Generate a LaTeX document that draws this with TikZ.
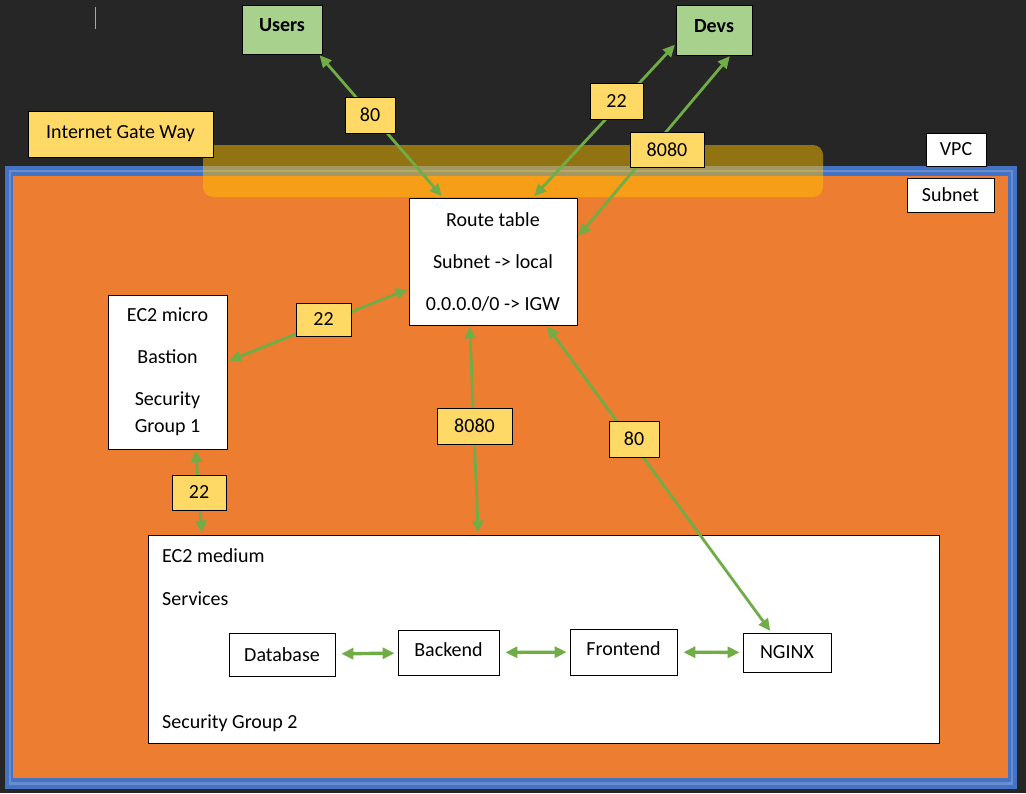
\documentclass[tikz,border=0pt]{standalone}
\usepackage{fontspec}
\setmainfont{Carlito}
\usepackage{xcolor}
\usetikzlibrary{arrows.meta}
\definecolor{bgdark}{HTML}{262626}
\definecolor{vpcblue}{HTML}{4472C4}
\definecolor{subnetorange}{HTML}{ED7D31}
\definecolor{igwgold}{HTML}{FFC000}
\definecolor{portyellow}{HTML}{FFD966}
\definecolor{usergreen}{HTML}{A9D18E}
\definecolor{linkgreen}{HTML}{70AD47}

\begin{document}
\begin{tikzpicture}[x=1pt,y=-1pt]
  \tikzset{box/.style = {shape=rectangle,draw,fill=white,line width=0.8pt,inner sep=1pt,align=center,font=\fontsize{20}{27}\selectfont}}
  \tikzset{client/.style = {box,fill=usergreen,font=\fontsize{20}{24}\selectfont\bfseries}}
  \tikzset{port/.style = {box,fill=portyellow,font=\fontsize{20}{24}\selectfont}}
  \tikzset{svc/.style = {box,font=\fontsize{20}{24}\selectfont}}
  \tikzset{plain/.style = {anchor=west,inner sep=0pt,font=\fontsize{20}{24}\selectfont}}
  \tikzset{%
    porttip/.tip={Triangle[length=12pt,width=11pt]},
  }
  \tikzset{link/.style = {porttip-porttip,color=linkgreen,line width=2.8pt,shorten <=1pt,shorten >=2pt}}
  \tikzset{svclink/.style = {link,line width=3.4pt,shorten <=6pt,shorten >=3pt}}

  % background, vpc and subnet
  \useasboundingbox (0,0) rectangle (1026,793);
  \fill[bgdark] (0,0) rectangle (1026,793);
  \draw[gray!70,line width=0.8pt] (95,7) -- (95,29);
  \fill[vpcblue] (5,166) rectangle (1017,789);
  \fill[vpcblue!80!white] (9,170) rectangle (1013,785);
  \fill[vpcblue] (11,172) rectangle (1011,782);
  \fill[subnetorange] (13,176) rectangle (1008,778);
  \fill[igwgold,opacity=0.5,rounded corners=10pt] (203,145) rectangle (823,197);

  \node[port,minimum width=185pt,minimum height=46pt] (IGW) at (120.5,134) {Internet Gate Way};
  \node[box,minimum width=60pt,minimum height=33pt,font=\fontsize{20}{24}\selectfont] (VPC) at (956,149.5) {VPC};
  \node[box,minimum width=87pt,minimum height=34pt,font=\fontsize{20}{24}\selectfont] (SN) at (950.5,195) {Subnet};

  \node[client,minimum width=80pt,minimum height=49pt,text depth=8pt] (users) at (282,29.5) {Users};
  \node[client,minimum width=76pt,minimum height=50pt,text depth=8pt] (devs) at (714,30) {Devs};

  \node[box,minimum width=168pt,minimum height=127pt] (route) at (493,261.5)
    {Route table\\[15pt]Subnet -> local\\[15pt]0.0.0.0/0 -> IGW};
  \node[box,minimum width=119pt,minimum height=154pt] (ec2micro) at (167.5,372)
    {EC2 micro\\[15pt]Bastion\\[15pt]Security\\Group 1};

  \node[box,minimum width=791pt,minimum height=208pt] (medium) at (543.5,639) {};
  \node[plain] (mediumT) at (162,556) {EC2 medium};
  \node[plain] (servT) at (162,599) {Services};
  \node[plain] (sg2T) at (162,723) {Security Group 2};

  \node[svc,minimum width=106pt,minimum height=43pt] (database) at (282,654.5) {Database};
  \node[svc,minimum width=101pt,minimum height=45pt,text depth=6pt] (backend) at (448.5,652.5) {Backend};
  \node[svc,minimum width=107pt,minimum height=46pt,text depth=7pt] (frontend) at (623.5,652) {Frontend};
  \node[svc,minimum width=88pt,minimum height=39pt] (nginx) at (787,652.5) {NGINX};

    \foreach \from/\to in {users.-34/route.128, devs.-160/route.58, devs.-57/route.16, route.198/ec2micro.10, route.-110/medium.122, route.-50/nginx.128, ec2micro.-70/medium.163}
    \path[link](\from) edge (\to);

    \foreach \from/\to in {database/backend, backend/frontend, frontend/nginx}
    \path[svclink](\from) edge (\to);

  % port labels on top of the links
  \node[port,minimum width=50pt,minimum height=36pt] (pU) at (370,115) {80};
  \node[port,minimum width=53pt,minimum height=36pt] (pDa) at (616.5,101) {22};
  \node[port,minimum width=74pt,minimum height=35pt] (pDb) at (667,149.5) {8080};
  \node[port,minimum width=55pt,minimum height=33pt] (pB) at (323.5,319.5) {22};
  \node[port,minimum width=54pt,minimum height=35pt] (pM) at (199,492.5) {22};
  \node[port,minimum width=75pt,minimum height=36pt] (pR) at (474.5,426) {8080};
  \node[port,minimum width=50pt,minimum height=36pt] (pN) at (634,439) {80};

\end{tikzpicture}
\end{document}
